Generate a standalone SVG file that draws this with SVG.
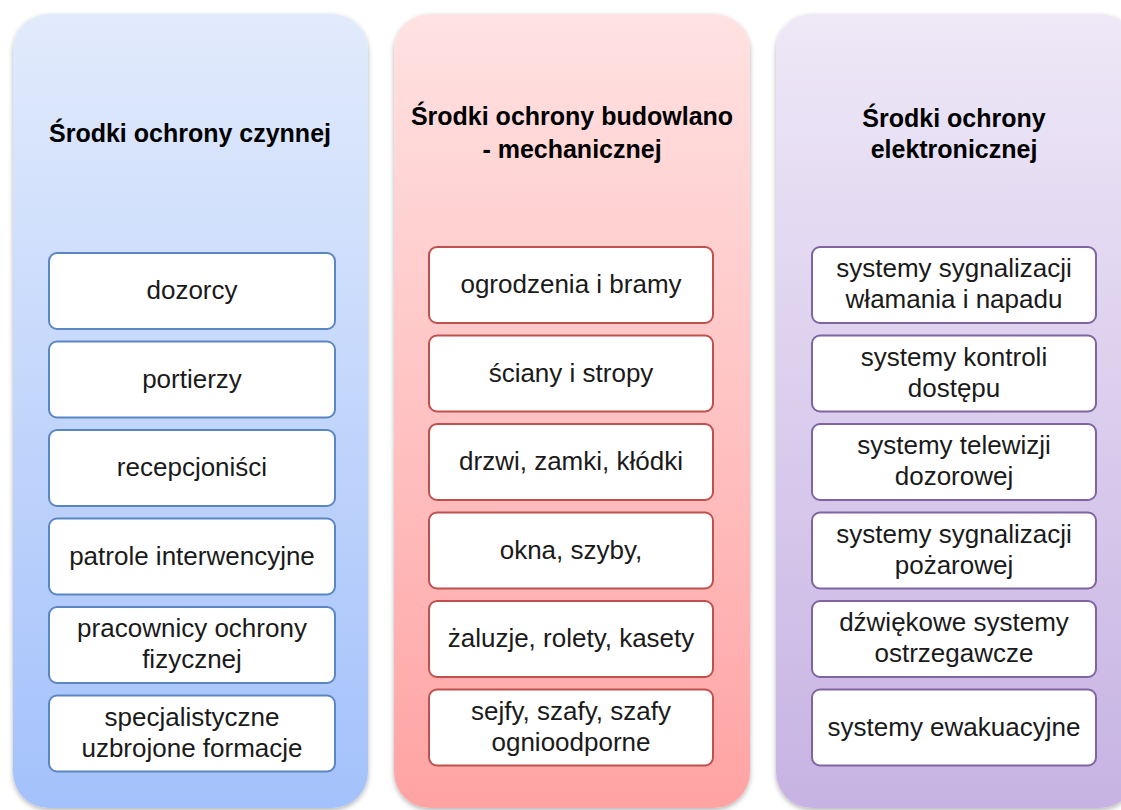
<svg xmlns="http://www.w3.org/2000/svg" width="1121" height="810" viewBox="0 0 1121 810">
<defs>
<linearGradient id="gBlue" x1="0" y1="0" x2="0" y2="1"><stop offset="0" stop-color="#e2ebfc"/><stop offset="1" stop-color="#a3c1fb"/></linearGradient>
<linearGradient id="gRed" x1="0" y1="0" x2="0" y2="1"><stop offset="0" stop-color="#ffe2e2"/><stop offset="1" stop-color="#ffa3a3"/></linearGradient>
<linearGradient id="gPurple" x1="0" y1="0" x2="0" y2="1"><stop offset="0" stop-color="#eee8f7"/><stop offset="1" stop-color="#c7b3e3"/></linearGradient>
<filter id="sh" x="-10%" y="-10%" width="120%" height="120%"><feDropShadow dx="0" dy="2" stdDeviation="2.5" flood-color="#000" flood-opacity="0.3"/></filter>
<style>
.col{filter:url(#sh)}
.box{fill:#fff;stroke-width:2}
.b .box{stroke:#5b86c4}
.r .box{stroke:#c0504d}
.p .box{stroke:#8064a2}
text{font-family:"Liberation Sans",Arial,sans-serif;text-anchor:middle;fill:#1a1a1a}
.t{font-size:25px;font-weight:bold;fill:#000}
.i{font-size:26px}
</style>
</defs>
<rect width="1121" height="810" fill="#fff"/>
<g id="col1" class="b">
<rect class="col" x="13" y="14" width="355" height="794" rx="36" fill="url(#gBlue)"/>
<text class="t" x="190" y="142">Środki ochrony czynnej</text>
<g id="n-dozorcy"><rect class="box" x="49" y="253" width="286" height="76" rx="8"/><text class="i" x="192" y="299">dozorcy</text></g>
<g id="n-portierzy"><rect class="box" x="49" y="341.5" width="286" height="76" rx="8"/><text class="i" x="192" y="387.5">portierzy</text></g>
<g id="n-recepcjonisci"><rect class="box" x="49" y="430" width="286" height="76" rx="8"/><text class="i" x="192" y="476">recepcjoniści</text></g>
<g id="n-patrole"><rect class="box" x="49" y="518.5" width="286" height="76" rx="8"/><text class="i" x="192" y="564.5">patrole interwencyjne</text></g>
<g id="n-pracownicy"><rect class="box" x="49" y="607" width="286" height="76" rx="8"/><text class="i" x="192" y="637">pracownicy ochrony</text><text class="i" x="192" y="668">fizycznej</text></g>
<g id="n-specjalistyczne"><rect class="box" x="49" y="695.5" width="286" height="76" rx="8"/><text class="i" x="192" y="725.5">specjalistyczne</text><text class="i" x="192" y="756.5">uzbrojone formacje</text></g>
</g>
<g id="col2" class="r">
<rect class="col" x="394" y="14" width="356" height="794" rx="36" fill="url(#gRed)"/>
<text class="t" x="572" y="125">Środki ochrony budowlano</text>
<text class="t" x="572" y="158">- mechanicznej</text>
<g id="n-ogrodzenia"><rect class="box" x="429" y="247" width="284" height="76" rx="8"/><text class="i" x="571" y="293">ogrodzenia i bramy</text></g>
<g id="n-sciany"><rect class="box" x="429" y="335.5" width="284" height="76" rx="8"/><text class="i" x="571" y="381.5">ściany i stropy</text></g>
<g id="n-drzwi"><rect class="box" x="429" y="424" width="284" height="76" rx="8"/><text class="i" x="571" y="470">drzwi, zamki, kłódki</text></g>
<g id="n-okna"><rect class="box" x="429" y="512.5" width="284" height="76" rx="8"/><text class="i" x="571" y="558.5">okna, szyby,</text></g>
<g id="n-zaluzje"><rect class="box" x="429" y="601" width="284" height="76" rx="8"/><text class="i" x="571" y="647">żaluzje, rolety, kasety</text></g>
<g id="n-sejfy"><rect class="box" x="429" y="689.5" width="284" height="76" rx="8"/><text class="i" x="571" y="719.5">sejfy, szafy, szafy</text><text class="i" x="571" y="750.5">ognioodporne</text></g>
</g>
<g id="col3" class="p">
<rect class="col" x="776" y="14" width="360" height="794" rx="36" fill="url(#gPurple)"/>
<text class="t" x="954" y="127">Środki ochrony</text>
<text class="t" x="954" y="158">elektronicznej</text>
<g id="n-wlamania"><rect class="box" x="812" y="247" width="284" height="76" rx="8"/><text class="i" x="954" y="277">systemy sygnalizacji</text><text class="i" x="954" y="308">włamania i napadu</text></g>
<g id="n-kontroli"><rect class="box" x="812" y="335.5" width="284" height="76" rx="8"/><text class="i" x="954" y="365.5">systemy kontroli</text><text class="i" x="954" y="396.5">dostępu</text></g>
<g id="n-telewizji"><rect class="box" x="812" y="424" width="284" height="76" rx="8"/><text class="i" x="954" y="454">systemy telewizji</text><text class="i" x="954" y="485">dozorowej</text></g>
<g id="n-pozarowej"><rect class="box" x="812" y="512.5" width="284" height="76" rx="8"/><text class="i" x="954" y="542.5">systemy sygnalizacji</text><text class="i" x="954" y="573.5">pożarowej</text></g>
<g id="n-dzwiekowe"><rect class="box" x="812" y="601" width="284" height="76" rx="8"/><text class="i" x="954" y="631">dźwiękowe systemy</text><text class="i" x="954" y="662">ostrzegawcze</text></g>
<g id="n-ewakuacyjne"><rect class="box" x="812" y="689.5" width="284" height="76" rx="8"/><text class="i" x="954" y="735.5">systemy ewakuacyjne</text></g>
</g>
<g id="connectors"/>
</svg>
